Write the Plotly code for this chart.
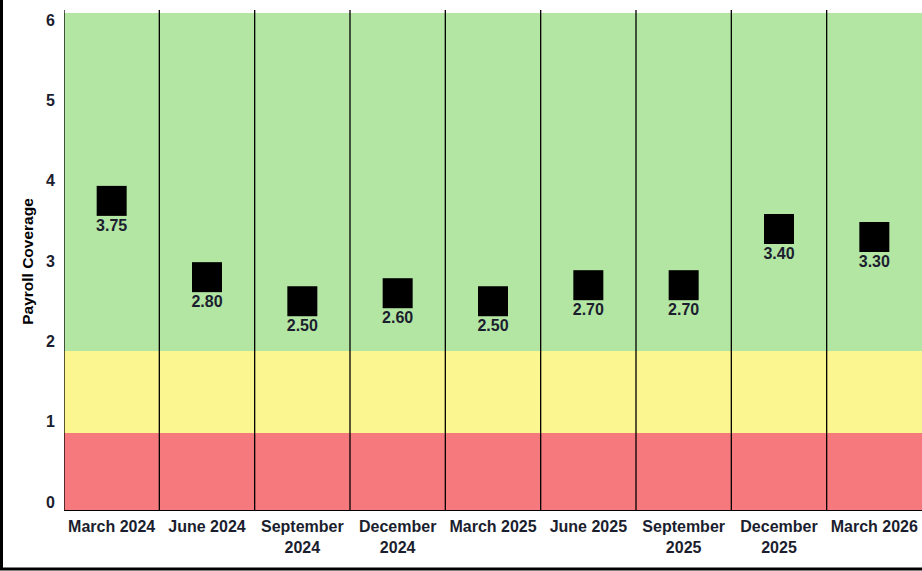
import plotly.graph_objects as go

# Quarterly payroll coverage ratios
quarters = [
    "March 2024", "June 2024", "September<br>2024", "December<br>2024",
    "March 2025", "June 2025", "September<br>2025", "December<br>2025",
    "March 2026",
]
coverage = [3.75, 2.80, 2.50, 2.60, 2.50, 2.70, 2.70, 3.40, 3.30]

# Status zones (lower, upper, colour)
zone_lower = [-0.1, 0.86, 1.88]
zone_upper = [0.86, 1.88, 6.09]
zone_colors = ["#f6797d", "#fbf68f", "#b3e6a3"]

y_range = [-0.1, 6.09]
y_ticks = [0, 1, 2, 3, 4, 5, 6]

FONT = "Arial, 'Liberation Sans', sans-serif"
TEXT_COLOR = "#1b1e2e"

W, H = 922, 571
L, T, B = 64, 13, 61
plot_w = W - L
plot_h = H - T - B

x_idx = list(range(len(quarters)))

fig = go.Figure()

# square markers
fig.add_trace(go.Scatter(
    x=x_idx,
    y=coverage,
    mode="markers",
    marker=dict(symbol="square", size=30, color="#000000",
                line=dict(width=0)),
    hoverinfo="skip",
    showlegend=False,
    cliponaxis=False,
))

# value labels just under each square
fig.add_trace(go.Scatter(
    x=x_idx,
    y=coverage,
    mode="markers+text",
    marker=dict(symbol="square", size=27, opacity=0),
    text=[f"{v:.2f}" for v in coverage],
    textposition="bottom center",
    textfont=dict(family=FONT, size=16, color=TEXT_COLOR, weight="bold"),
    hoverinfo="skip",
    showlegend=False,
    cliponaxis=False,
))

shapes = []
# coloured zones behind the data
for lo, hi, col in zip(zone_lower, zone_upper, zone_colors):
    shapes.append(dict(type="rect", xref="paper", yref="y",
                       x0=0, x1=1, y0=lo, y1=hi,
                       fillcolor=col, line=dict(width=0), layer="below"))

# separators between quarters plus the left axis line
top_extra = 1 + 3 / plot_h
for i in range(len(quarters)):
    shapes.append(dict(type="line", xref="x", yref="paper",
                       x0=i - 0.5, x1=i - 0.5, y0=0, y1=top_extra,
                       line=dict(color="#000000", width=1.3), layer="above"))

# outer frame of the chart
shapes.append(dict(type="rect", xref="paper", yref="paper",
                   x0=(1.5 - L) / plot_w, x1=(W + 20 - L) / plot_w,
                   y0=-(569 - (H - B)) / plot_h, y1=1 + 40 / plot_h,
                   line=dict(color="#000000", width=3),
                   fillcolor="rgba(0,0,0,0)", layer="above"))

fig.update_layout(
    width=W, height=H,
    margin=dict(l=L, r=0, t=T, b=B, pad=0),
    paper_bgcolor="#ffffff",
    plot_bgcolor="#ffffff",
    shapes=shapes,
    showlegend=False,
    xaxis=dict(
        range=[-0.5, len(quarters) - 0.5],
        tickmode="array", tickvals=x_idx, ticktext=quarters,
        showgrid=False, zeroline=False,
        showline=True, linecolor="#000000", linewidth=1.3,
        ticks="", ticklabelstandoff=2,
        tickfont=dict(family=FONT, size=16, color=TEXT_COLOR, weight="bold"),
        fixedrange=True,
    ),
    yaxis=dict(
        range=y_range,
        tickmode="array", tickvals=y_ticks,
        showgrid=False, zeroline=False, showline=False,
        ticks="", ticklabelstandoff=8,
        tickfont=dict(family=FONT, size=16, color=TEXT_COLOR, weight="bold"),
        title=dict(text="Payroll Coverage", standoff=8,
                   font=dict(family=FONT, size=15.5, color="#000000",
                             weight="bold")),
        fixedrange=True,
    ),
)

fig.write_html("out.html")
